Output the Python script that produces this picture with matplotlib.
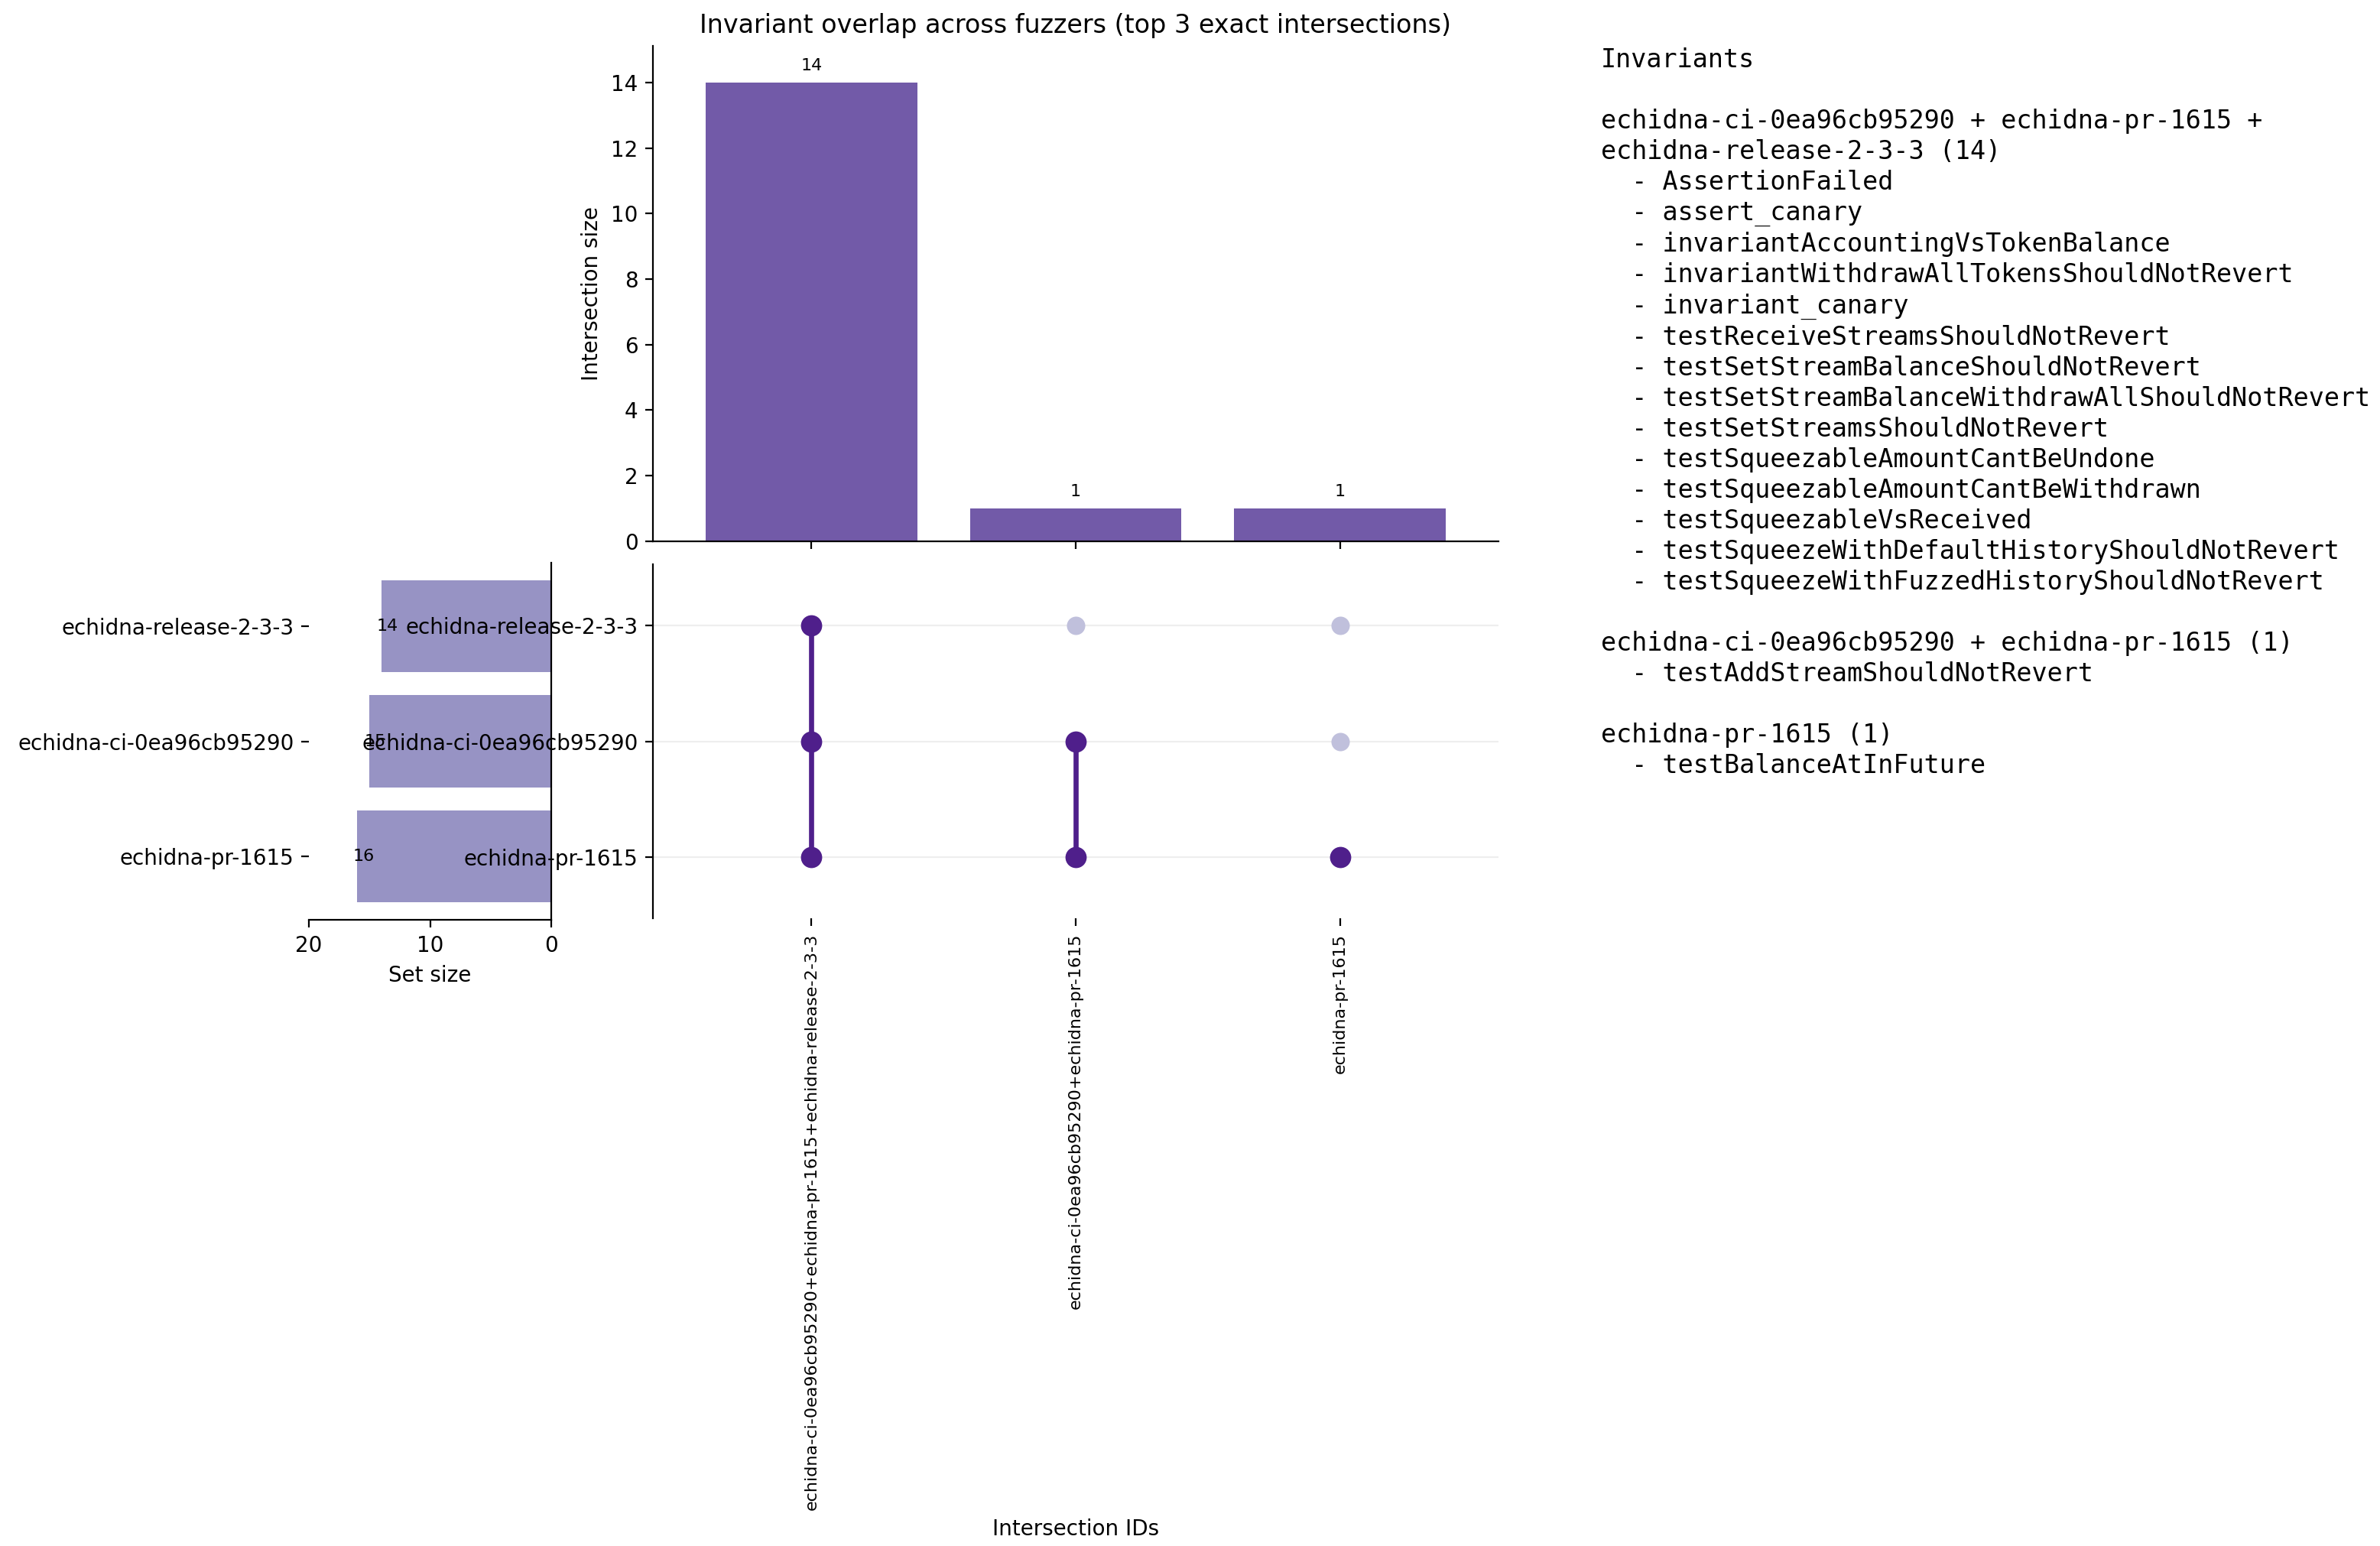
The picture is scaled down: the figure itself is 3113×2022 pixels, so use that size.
import matplotlib
matplotlib.use("Agg")
import matplotlib.pyplot as plt

# fuzzers (top to bottom in the matrix) and how many invariants each one broke
set_names = ["echidna-release-2-3-3", "echidna-ci-0ea96cb95290", "echidna-pr-1615"]
set_sizes = [14, 15, 16]

# top 3 exact intersections
inter_ids = [
    "echidna-ci-0ea96cb95290+echidna-pr-1615+echidna-release-2-3-3",
    "echidna-ci-0ea96cb95290+echidna-pr-1615",
    "echidna-pr-1615",
]
inter_sizes = [14, 1, 1]
# membership[i][j]: does intersection i contain set j
membership = [
    [True, True, True],
    [False, True, True],
    [False, False, True],
]

group_titles = [
    "echidna-ci-0ea96cb95290 + echidna-pr-1615 +\nechidna-release-2-3-3 (14)",
    "echidna-ci-0ea96cb95290 + echidna-pr-1615 (1)",
    "echidna-pr-1615 (1)",
]
group_items = [
    ["AssertionFailed", "assert_canary", "invariantAccountingVsTokenBalance",
     "invariantWithdrawAllTokensShouldNotRevert", "invariant_canary",
     "testReceiveStreamsShouldNotRevert", "testSetStreamBalanceShouldNotRevert",
     "testSetStreamBalanceWithdrawAllShouldNotRevert", "testSetStreamsShouldNotRevert",
     "testSqueezableAmountCantBeUndone", "testSqueezableAmountCantBeWithdrawn",
     "testSqueezableVsReceived", "testSqueezeWithDefaultHistoryShouldNotRevert",
     "testSqueezeWithFuzzedHistoryShouldNotRevert"],
    ["testAddStreamShouldNotRevert"],
    ["testBalanceAtInFuture"],
]

BAR = "#6a51a3"
SETBAR = "#9793c4"
DOT_ON = "#4f1f8b"
DOT_OFF = "#c0c0dc"

fig = plt.figure(figsize=(15.565, 10.11), dpi=200)

# set-size axes first so the matrix labels get drawn on top of its bars
ax_set = fig.add_axes([0.1298, 0.4050, 0.1018, 0.2310])
ax_bar = fig.add_axes([0.2743, 0.6499, 0.3553, 0.3205])
ax_mat = fig.add_axes([0.2743, 0.4060, 0.3553, 0.2290])
ax_mat.set_zorder(3)
ax_mat.patch.set_alpha(0)

xs = list(range(len(inter_ids)))
ys = list(range(len(set_names)))

# intersection size bars
ax_bar.bar(xs, inter_sizes, width=0.8, color=BAR, alpha=0.95)
for x, v in zip(xs, inter_sizes):
    ax_bar.text(x, v + 0.28, str(v), ha="center", va="bottom", fontsize=8)
ax_bar.set_xlim(-0.6, 2.6)
ax_bar.set_ylim(0, max(inter_sizes) * 1.08)
ax_bar.set_xticks(xs)
ax_bar.set_xticklabels([])
ax_bar.set_ylabel("Intersection size")
ax_bar.set_title("Invariant overlap across fuzzers (top 3 exact intersections)", fontsize=12)
ax_bar.spines["top"].set_visible(False)
ax_bar.spines["right"].set_visible(False)

# membership matrix
for x, row in zip(xs, membership):
    on = [y for y, m in zip(ys, row) if m]
    off = [y for y, m in zip(ys, row) if not m]
    if len(on) > 1:
        ax_mat.plot([x, x], [min(on), max(on)], color=DOT_ON, lw=2.4, zorder=2)
    ax_mat.scatter([x] * len(off), off, s=75, color=DOT_OFF, zorder=3, linewidths=0)
    ax_mat.scatter([x] * len(on), on, s=100, color=DOT_ON, zorder=3, linewidths=0)
ax_mat.set_xlim(-0.6, 2.6)
ax_mat.set_ylim(2.53, -0.53)
ax_mat.set_yticks(ys)
ax_mat.set_yticklabels(set_names)
ax_mat.set_xticks(xs)
ax_mat.set_xticklabels(inter_ids, rotation=90, fontsize=8)
ax_mat.set_xlabel("Intersection IDs")
ax_mat.grid(axis="y", color="#eeeeee", lw=0.8, zorder=0)
ax_mat.set_axisbelow(True)
for s in ["top", "right", "bottom"]:
    ax_mat.spines[s].set_visible(False)

# set size bars
ax_set.barh(ys, set_sizes, height=0.8, color=SETBAR)
for y, v in zip(ys, set_sizes):
    ax_set.text(v + 0.4, y, str(v), ha="left", va="center", fontsize=8)
ax_set.set_xlim(20, 0)
ax_set.set_ylim(2.55, -0.55)
ax_set.set_xticks([20, 10, 0])
ax_set.set_yticks(ys)
ax_set.set_yticklabels(set_names)
ax_set.set_xlabel("Set size")
ax_set.spines["top"].set_visible(False)
ax_set.spines["left"].set_visible(False)

# invariant listing on the right
lines = ["Invariants", ""]
for title, items in zip(group_titles, group_items):
    lines.append(title)
    lines += ["  - " + it for it in items]
    lines.append("")
fig.text(0.6727, 0.9693, "\n".join(lines[:-1]), ha="left", va="top",
         family="DejaVu Sans Mono", fontsize=12, linespacing=1.27)

fig.savefig("out.png", dpi=200)
